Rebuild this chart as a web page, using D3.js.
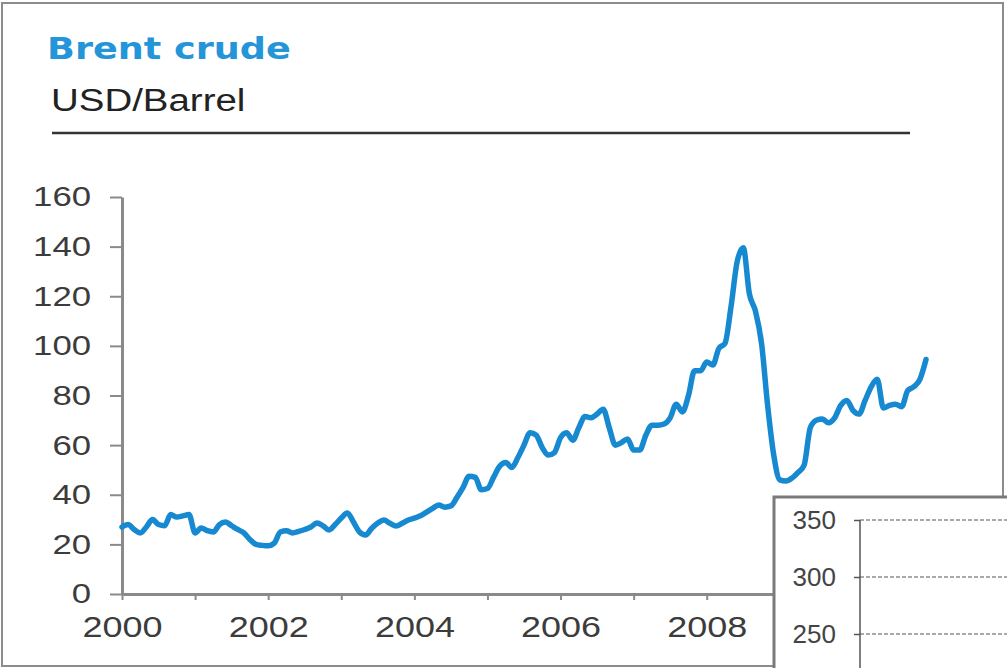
<!DOCTYPE html>
<html>
<head>
<meta charset="utf-8">
<script src="https://cdn.jsdelivr.net/npm/d3@7/dist/d3.min.js"></script>
<style>
  html, body { margin: 0; padding: 0; background: #fff; }
  svg { display: block; }
</style>
</head>
<body>
<script>
// ---------- DATA ----------
const title = "Brent crude";
const subtitle = "USD/Barrel";
const startYear = 2000; // monthly series, first value = Jan 2000
const brentMonthly = [
  // 2000
  27, 28, 26, 24.6, 27, 30, 28, 27.5, 32, 31, 31.5, 32,
  // 2001
  24.6, 26.6, 25.5, 25, 28, 29, 27.5, 26, 24.6, 22, 20, 19.6,
  // 2002
  19.4, 20.5, 25, 25.5, 24.6, 25.2, 26, 27, 28.6, 27.5, 25.8, 28,
  // 2003
  30.6, 32.6, 29, 25, 23.8, 26.5, 28.6, 29.8, 28.5, 27.4, 28.5, 29.8,
  // 2004
  30.6, 31.5, 33, 34.5, 35.9, 35, 35.5, 39, 43, 47.5, 47, 42,
  // 2005
  42.5, 47, 51.5, 53, 51, 55, 60, 65, 64, 59, 56, 57,
  // 2006
  63, 65, 62, 67, 71.5, 71, 72.5, 74.5, 67, 60, 61, 62.5,
  // 2007
  58, 58, 64, 68, 68, 68.5, 71, 76.5, 73.4, 80, 90, 90,
  // 2008
  93.5, 92.3, 99, 101, 116, 134, 139.5, 121, 114, 101, 76, 56,
  // 2009
  46, 45.5, 46.7, 49, 52, 67, 70, 70.5, 69, 71, 76, 78,
  // 2010
  74, 72.5, 78, 83.5, 86.5, 75, 76, 76.5, 75.5, 82, 83.5, 86.5,
  // Jan 2011
  94.5
];
const yTicks = [0, 20, 40, 60, 80, 100, 120, 140, 160];
const xTickYears = [2000, 2001, 2002, 2003, 2004, 2005, 2006, 2007, 2008, 2009, 2010];
const xLabelYears = [2000, 2002, 2004, 2006, 2008];
// partial second chart overlapping in the lower right corner
const insetTicks = [250, 300, 350];

// ---------- DRAW ----------
const W = 1007, H = 668;
const svg = d3.select("body").append("svg").attr("width", W).attr("height", H);

const blue = "#1789d1";
const axisGrey = "#8a8a8a";

// outer frame
svg.append("rect").attr("x", 2).attr("y", 3).attr("width", 1001).attr("height", 663)
  .attr("fill", "#fff").attr("stroke", "#8c8c8c").attr("stroke-width", 2);

function stretch(sel, f) {
  sel.each(function() {
    const n = this.getComputedTextLength();
    d3.select(this).attr("textLength", n * f).attr("lengthAdjust", "spacingAndGlyphs");
  });
}

// title
svg.append("text").attr("x", 47).attr("y", 59).text(title)
  .attr("font-family", "DejaVu Sans").attr("font-weight", "bold").attr("font-size", 31)
  .attr("fill", "#2495d8").call(stretch, 1.18);
svg.append("text").attr("x", 51).attr("y", 111).text(subtitle)
  .attr("font-family", "Liberation Sans, Arial").attr("font-size", 31)
  .attr("fill", "#222").call(stretch, 1.24);
svg.append("line").attr("x1", 52).attr("x2", 910).attr("y1", 133).attr("y2", 133)
  .attr("stroke", "#333").attr("stroke-width", 2.5);

// scales
const x = d3.scaleLinear().domain([2000, 2011]).range([122, 926]);
const y = d3.scaleLinear().domain([0, 160]).range([594, 197]);

// y axis
const gy = svg.append("g").attr("transform", "translate(122,0)")
  .call(d3.axisLeft(y).tickValues(yTicks).tickSize(12).tickPadding(19).tickSizeOuter(0));
gy.select(".domain").attr("stroke", axisGrey).attr("stroke-width", 3);
gy.selectAll(".tick line").attr("stroke", axisGrey).attr("stroke-width", 2);
gy.selectAll(".tick text").attr("font-family", "Liberation Sans, Arial").attr("font-size", 28)
  .attr("fill", "#3c3c3c").call(stretch, 1.24);

// x axis
const gx = svg.append("g").attr("transform", "translate(0,594)")
  .call(d3.axisBottom(x).tickValues(xTickYears).tickSize(6).tickPadding(16).tickSizeOuter(0)
    .tickFormat(d => xLabelYears.includes(d) ? String(d) : ""));
gx.select(".domain").attr("stroke", axisGrey).attr("stroke-width", 3);
gx.selectAll(".tick line").attr("stroke", axisGrey).attr("stroke-width", 2);
gx.selectAll(".tick text").attr("font-family", "Liberation Sans, Arial").attr("font-size", 29)
  .attr("fill", "#3c3c3c").filter(function(){ return this.textContent !== ""; }).call(stretch, 1.24);

// line
const line = d3.line()
  .x((d, i) => x(startYear + i / 12))
  .y(d => y(d))
  .curve(d3.curveMonotoneX);
svg.append("path").datum(brentMonthly).attr("d", line)
  .attr("fill", "none").attr("stroke", blue).attr("stroke-width", 5.5)
  .attr("stroke-linejoin", "round").attr("stroke-linecap", "round");

// ---------- inset (overlapping second chart) ----------
const inset = svg.append("g");
inset.append("rect").attr("x", 774).attr("y", 497).attr("width", 250).attr("height", 200)
  .attr("fill", "#fff").attr("stroke", "#7a7a7a").attr("stroke-width", 3);
const yi = d3.scaleLinear().domain([250, 350]).range([634, 520]);
const gi = inset.append("g").attr("transform", "translate(860,0)")
  .call(d3.axisLeft(yi).tickValues(insetTicks).tickSize(6).tickPadding(18).tickSizeOuter(0));
gi.select(".domain").remove();
gi.selectAll(".tick line").attr("stroke", "#555").attr("stroke-width", 1.5);
gi.selectAll(".tick text").attr("font-family", "Liberation Sans, Arial").attr("font-size", 26)
  .attr("fill", "#444");
inset.append("line").attr("x1", 860).attr("x2", 860).attr("y1", yi(350)).attr("y2", 670)
  .attr("stroke", "#555").attr("stroke-width", 1.5);
inset.selectAll("line.grid").data(insetTicks).join("line").attr("class", "grid")
  .attr("x1", 860).attr("x2", 1007).attr("y1", d => yi(d)).attr("y2", d => yi(d))
  .attr("stroke", "#555").attr("stroke-width", 1.2).attr("stroke-dasharray", "4,2");
</script>
</body>
</html>
